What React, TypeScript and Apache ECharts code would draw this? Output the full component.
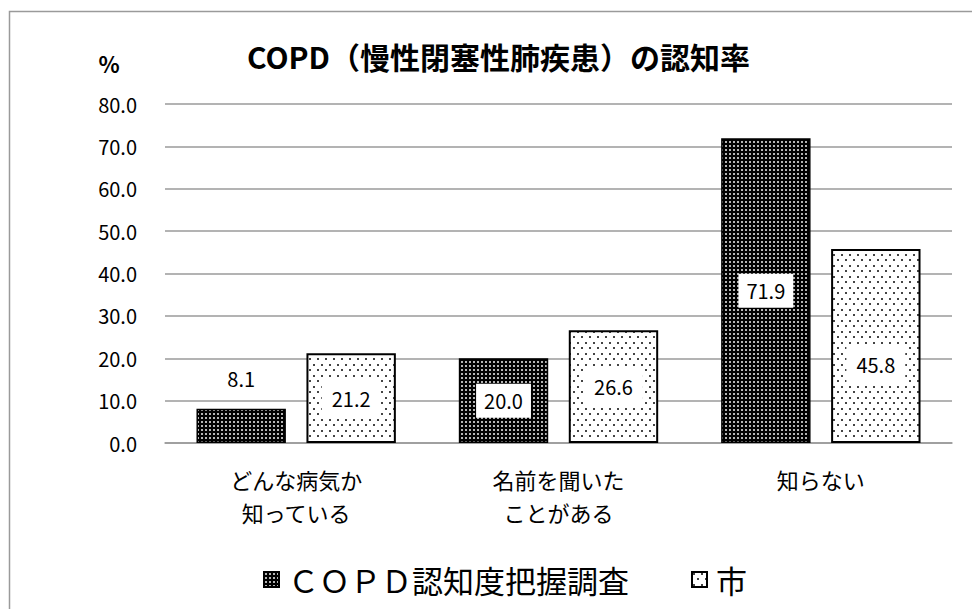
import React, { useEffect, useRef } from "react";
import * as echarts from "echarts";

const categories = ["どんな病気か\n知っている", "名前を聞いた\nことがある", "知らない"];
const surveyName = "ＣＯＰＤ認知度把握調査";
const cityName = "市";
const surveyValues = [8.1, 20.0, 71.9];
const cityValues = [21.2, 26.6, 45.8];
const yMin = 0;
const yMax = 80;
const yInterval = 10;
const titleText = "COPD（慢性閉塞性肺疾患）の認知率";
const unitText = "%";

const FONT = "'Noto Sans CJK JP', 'Noto Sans', sans-serif";

function makeDark(): HTMLCanvasElement {
  const c = document.createElement("canvas");
  c.width = 4;
  c.height = 4;
  const g = c.getContext("2d")!;
  g.fillStyle = "#000";
  g.fillRect(0, 0, 4, 4);
  g.fillStyle = "#b4b4b4";
  g.fillRect(1, 1, 2, 2);
  return c;
}

function makeLight(): HTMLCanvasElement {
  const c = document.createElement("canvas");
  c.width = 8;
  c.height = 11;
  const g = c.getContext("2d")!;
  g.fillStyle = "#fff";
  g.fillRect(0, 0, 8, 11);
  g.fillStyle = "#444";
  g.fillRect(1, 1, 2, 2);
  g.fillRect(5, 6, 2, 2);
  return c;
}

export default function App() {
  const ref = useRef<HTMLDivElement>(null);
  useEffect(() => {
    if (!ref.current) return;
    const chart = echarts.init(ref.current, undefined, { renderer: "svg" });
    const dark = { image: makeDark(), repeat: "repeat" };
    const light = { image: makeLight(), repeat: "repeat" };

    const labelBase = {
      show: true,
      position: "inside",
      fontFamily: FONT,
      fontSize: 20,
      fontWeight: "normal",
      color: "#000",
      backgroundColor: "#fff",
      padding: [8, 8, 6, 8],
      formatter: (p: any) => Number(p.value).toFixed(1),
    };

    const surveyData = surveyValues.map((v, i) =>
      i === 0
        ? { value: v, label: { position: "top", distance: 14, backgroundColor: "transparent" } }
        : { value: v }
    );
    const cityData = cityValues.map((v, i) =>
      i === 2 ? { value: v, label: { offset: [0, 19] } } : { value: v }
    );

    chart.setOption({
      animation: false,
      backgroundColor: "#fff",
      title: {
        text: titleText,
        left: 242,
        top: 36,
        textStyle: { fontFamily: FONT, fontSize: 30, fontWeight: "bold", color: "#000" },
      },
      graphic: [
        {
          type: "rect",
          shape: { x: 9.5, y: 11.5, width: 1000, height: 700 },
          style: { fill: "none", stroke: "#9a9a9a", lineWidth: 1.5 },
          z: 0,
        },
        {
          type: "text",
          x: 109,
          y: 63,
          style: {
            text: unitText,
            fontFamily: FONT,
            fontSize: 22,
            fontWeight: "bold",
            fill: "#000",
            textAlign: "center",
            textVerticalAlign: "middle",
          },
        },
      ],
      legend: {
        top: 559,
        left: 258,
        itemWidth: 15,
        itemHeight: 15,
        itemGap: 62,
        icon: "rect",
        textStyle: { fontFamily: FONT, fontSize: 31, color: "#000", padding: [0, 0, 0, 4] },
        data: [surveyName, cityName],
      },
      grid: { left: 165, right: 20, top: 104, bottom: 166 },
      xAxis: {
        type: "category",
        data: categories,
        axisLine: { lineStyle: { color: "#9a9a9a", width: 1.5 } },
        axisTick: { show: false },
        axisLabel: {
          fontFamily: FONT,
          fontSize: 22,
          fontWeight: "normal",
          color: "#000",
          lineHeight: 33,
          margin: 19,
        },
      },
      yAxis: {
        type: "value",
        min: yMin,
        max: yMax,
        interval: yInterval,
        axisLine: { show: false },
        axisTick: { show: false },
        splitLine: { lineStyle: { color: "#9a9a9a", width: 1.5 } },
        axisLabel: {
          fontFamily: FONT,
          fontSize: 20,
          fontWeight: "normal",
          color: "#000",
          margin: 28,
          formatter: (v: number) => v.toFixed(1),
        },
      },
      series: [
        {
          name: surveyName,
          type: "bar",
          data: surveyData,
          barGap: "23%",
          barCategoryGap: "24%",
          itemStyle: { color: dark, borderColor: "#000", borderWidth: 1.5 },
          label: labelBase,
        },
        {
          name: cityName,
          type: "bar",
          data: cityData,
          itemStyle: { color: light, borderColor: "#000", borderWidth: 2 },
          label: { ...labelBase, padding: [10, 10, 8, 10] },
        },
      ],
    });
    return () => chart.dispose();
  }, []);
  return (
    <div
      ref={ref}
      style={{ position: "fixed", left: 0, top: 0, width: 972, height: 609 }}
    />
  );
}
